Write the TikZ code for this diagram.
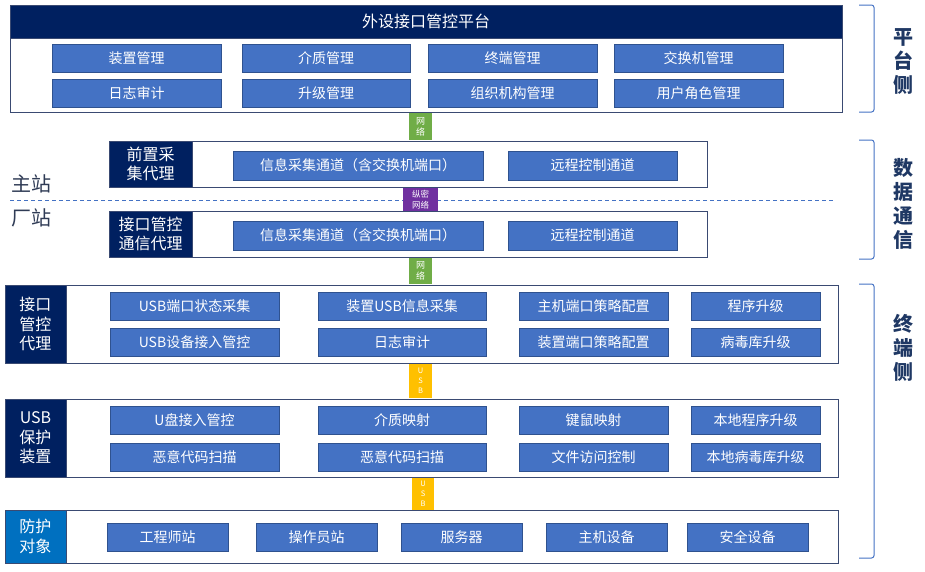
\documentclass[tikz,border=0pt]{standalone}
\usepackage{fontspec}
\setmainfont{Noto Sans CJK SC}
\definecolor{navy}{HTML}{002060}
\definecolor{btnblue}{HTML}{4472C4}
\definecolor{btnborder}{HTML}{2F528F}
\definecolor{boxborder}{HTML}{3A4A72}
\definecolor{objblue}{HTML}{0070C0}
\definecolor{netgreen}{HTML}{70AD47}
\definecolor{netpurple}{HTML}{7030A0}
\definecolor{usbyellow}{HTML}{FFC000}
\definecolor{sidetext}{HTML}{1F3864}
\definecolor{stationtext}{HTML}{2F3B55}
\newcommand\bx[7]{\node[#1, minimum width={#5-#3}, minimum height={#6-#4}] (#2) at ({(#3+#5)/2},{(#4+#6)/2}) {#7};}
\tikzset{
  every node/.style={inner sep=0pt, outer sep=0pt},
  outerbox/.style={draw=boxborder, line width=1pt, fill=white},
  hdrbox/.style={draw=boxborder, line width=1pt, fill=navy, text=white, font=\fontsize{16pt}{19pt}\selectfont},
  lblbox/.style={draw=boxborder, line width=1pt, fill=navy, text=white, align=center, font=\fontsize{16pt}{19.5pt}\selectfont},
  objbox/.style={draw=boxborder, line width=1pt, fill=objblue, text=white, align=center, font=\fontsize{16pt}{19.5pt}\selectfont},
  btn/.style={draw=btnborder, line width=0.9pt, fill=btnblue, text=white, font=\fontsize{14pt}{16pt}\selectfont},
  netlink/.style={fill=netgreen, text=white, align=center, font=\fontsize{9pt}{11pt}\selectfont},
  secnet/.style={fill=netpurple, text=white, align=center, font=\fontsize{8.5pt}{10.5pt}\selectfont},
  usblink/.style={fill=usbyellow, text=white, align=center, font=\fontsize{7.5pt}{10pt}\selectfont},
  bracket/.style={draw=btnblue, line width=1pt, rounded corners=2.5pt},
  sidelbl/.style={text=sidetext, align=center, font=\fontsize{20pt}{24pt}\selectfont\bfseries},
  stationlbl/.style={text=stationtext, font=\fontsize{20pt}{24pt}\selectfont},
  sepline/.style={draw=btnblue, line width=1pt, dash pattern=on 4pt off 3pt}
}
\begin{document}
\begin{tikzpicture}[x=1pt, y=-1pt]
\useasboundingbox[fill=white] (0,0) rectangle (925,571);

% ---------- platform ----------
\bx{outerbox}{plat}{10}{5}{842}{112}{}
\bx{hdrbox}{plathdr}{10}{5}{842}{38}{外设接口管控平台}
\bx{btn}{p11}{52}{44}{221}{72}{装置管理}
\bx{btn}{p12}{242}{44}{410}{72}{介质管理}
\bx{btn}{p13}{428}{44}{597}{72}{终端管理}
\bx{btn}{p14}{614}{44}{783}{72}{交换机管理}
\bx{btn}{p21}{52}{79}{221}{107}{日志审计}
\bx{btn}{p22}{242}{79}{410}{107}{升级管理}
\bx{btn}{p23}{428}{79}{597}{107}{组织机构管理}
\bx{btn}{p24}{614}{79}{783}{107}{用户角色管理}

% ---------- station separator ----------
\coordinate (sepL) at (10,200);
\coordinate (sepR) at (835,200);
\draw[sepline] (sepL) -- (sepR);
\node[stationlbl] (zhuzhan) at (32,184) {主站};
\node[stationlbl] (changzhan) at (32,218) {厂站};

% ---------- front collection agent ----------
\bx{outerbox}{front}{109}{141}{707}{187}{}
\bx{lblbox}{frontlbl}{109}{141}{192}{187}{前置采\\集代理}
\bx{btn}{f1}{233}{151}{483}{180}{信息采集通道（含交换机端口）}
\bx{btn}{f2}{508}{151}{677}{180}{远程控制通道}

% ---------- comm agent ----------
\bx{outerbox}{comm}{109}{211}{707}{257}{}
\bx{lblbox}{commlbl}{109}{211}{192}{257}{接口管控\\通信代理}
\bx{btn}{c1}{233}{221}{483}{250}{信息采集通道（含交换机端口）}
\bx{btn}{c2}{508}{221}{677}{250}{远程控制通道}

% ---------- interface control agent ----------
\bx{outerbox}{agent}{5}{285}{838}{363}{}
\bx{lblbox}{agentlbl}{5}{285}{66}{363}{接口\\管控\\代理}
\bx{btn}{a11}{110}{292}{279}{320}{USB端口状态采集}
\bx{btn}{a12}{318}{292}{486}{320}{装置USB信息采集}
\bx{btn}{a13}{519}{292}{668}{320}{主机端口策略配置}
\bx{btn}{a14}{691}{292}{820}{320}{程序升级}
\bx{btn}{a21}{110}{328}{279}{356}{USB设备接入管控}
\bx{btn}{a22}{318}{328}{486}{356}{日志审计}
\bx{btn}{a23}{519}{328}{668}{356}{装置端口策略配置}
\bx{btn}{a24}{691}{328}{820}{356}{病毒库升级}

% ---------- USB protection device ----------
\bx{outerbox}{usbdev}{5}{399}{838}{477}{}
\bx{lblbox}{usbdevlbl}{5}{399}{66}{477}{USB\\保护\\装置}
\bx{btn}{u11}{110}{406}{279}{434}{U盘接入管控}
\bx{btn}{u12}{318}{406}{486}{434}{介质映射}
\bx{btn}{u13}{519}{406}{668}{434}{键鼠映射}
\bx{btn}{u14}{691}{406}{820}{434}{本地程序升级}
\bx{btn}{u21}{110}{443}{279}{471}{恶意代码扫描}
\bx{btn}{u22}{318}{443}{486}{471}{恶意代码扫描}
\bx{btn}{u23}{519}{443}{668}{471}{文件访问控制}
\bx{btn}{u24}{691}{443}{820}{471}{本地病毒库升级}

% ---------- protected objects ----------
\bx{outerbox}{obj}{5}{510}{838}{563}{}
\bx{objbox}{objlbl}{5}{510}{66}{563}{防护\\对象}
\bx{btn}{o1}{107}{523}{228}{551}{工程师站}
\bx{btn}{o2}{256}{523}{377}{551}{操作员站}
\bx{btn}{o3}{401}{523}{522}{551}{服务器}
\bx{btn}{o4}{546}{523}{667}{551}{主机设备}
\bx{btn}{o5}{687}{523}{808}{551}{安全设备}

% ---------- links between layers ----------
\bx{netlink}{net1}{409}{113}{432}{140}{网\\络}
\bx{secnet}{net2}{403}{188}{438}{211}{纵密\\网络}
\bx{netlink}{net3}{409}{258}{432}{284}{网\\络}
\bx{usblink}{usb1}{409}{364}{432}{398}{U\\S\\B}
\bx{usblink}{usb2}{412}{478}{434}{510}{U\\S\\B}

% ---------- side brackets ----------
\coordinate (b1t) at (859,5);   \coordinate (b1b) at (859,112);
\coordinate (b2t) at (859,140); \coordinate (b2b) at (859,259);
\coordinate (b3t) at (859,284); \coordinate (b3b) at (859,558);
\draw[bracket] (b1t) -- ++(15,0) |- (b1b);
\draw[bracket] (b2t) -- ++(15,0) |- (b2b);
\draw[bracket] (b3t) -- ++(15,0) |- (b3b);
\node[sidelbl] (side1) at (903,62) {平\\台\\侧};
\node[sidelbl] (side2) at (903,204) {数\\据\\通\\信};
\node[sidelbl] (side3) at (903,348) {终\\端\\侧};
\end{tikzpicture}
\end{document}
